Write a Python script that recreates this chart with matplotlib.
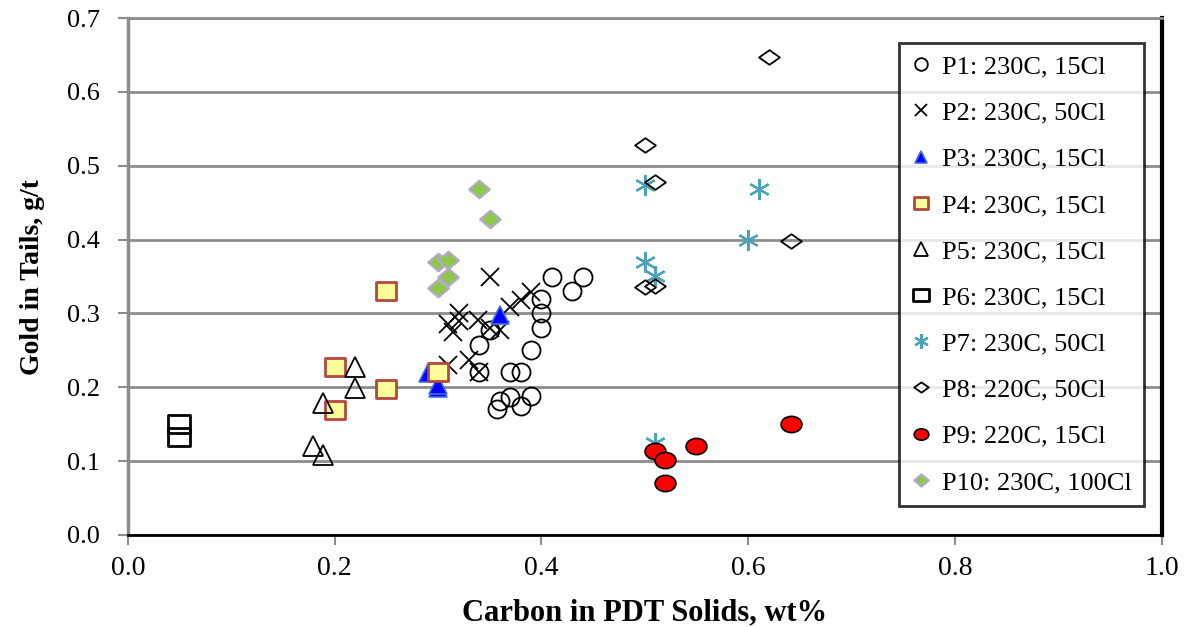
import matplotlib
matplotlib.use("Agg")
import matplotlib.pyplot as plt
from matplotlib.path import Path
from matplotlib.transforms import Affine2D

plt.rcParams['font.family'] = ['Liberation Serif', 'DejaVu Serif']

# ---- data ----
p1_x = [0.41, 0.44, 0.43, 0.40, 0.40, 0.40, 0.35, 0.34, 0.39, 0.34, 0.37, 0.38, 0.37, 0.39, 0.36, 0.357, 0.38]
p1_y = [0.35, 0.35, 0.33, 0.32, 0.30, 0.28, 0.277, 0.257, 0.25, 0.22, 0.22, 0.22, 0.187, 0.188, 0.182, 0.171, 0.174]

p2_x = [0.35, 0.39, 0.38, 0.37, 0.32, 0.31, 0.32, 0.315, 0.339, 0.36, 0.34, 0.31, 0.33, 0.35]
p2_y = [0.35, 0.329, 0.318, 0.309, 0.30, 0.285, 0.29, 0.275, 0.291, 0.277, 0.22, 0.23, 0.237, 0.28]

p3_x = [0.36, 0.29, 0.30, 0.30]
p3_y = [0.298, 0.219, 0.199, 0.203]

p4_x = [0.25, 0.30, 0.25, 0.20, 0.20]
p4_y = [0.33, 0.22, 0.197, 0.228, 0.169]

p5_x = [0.189, 0.179, 0.189, 0.22, 0.22]
p5_y = [0.178, 0.12, 0.108, 0.228, 0.199]

p6_x = [0.05, 0.05]
p6_y = [0.15, 0.132]

p7_x = [0.50, 0.61, 0.60, 0.50, 0.51, 0.51]
p7_y = [0.474, 0.468, 0.399, 0.369, 0.351, 0.124]

p8_x = [0.62, 0.50, 0.51, 0.641, 0.50, 0.51]
p8_y = [0.648, 0.528, 0.478, 0.398, 0.336, 0.337]

p9_x = [0.641, 0.55, 0.51, 0.52, 0.52]
p9_y = [0.150, 0.12, 0.114, 0.101, 0.07]

p10_x = [0.34, 0.35, 0.30, 0.31, 0.31, 0.30]
p10_y = [0.468, 0.428, 0.37, 0.373, 0.35, 0.335]

labels = ["P1: 230C, 15Cl", "P2: 230C, 50Cl", "P3: 230C, 15Cl", "P4: 230C, 15Cl",
          "P5: 230C, 15Cl", "P6: 230C, 15Cl", "P7: 230C, 50Cl", "P8: 220C, 50Cl",
          "P9: 220C, 15Cl", "P10: 230C, 100Cl"]

x_ticks = [0.0, 0.2, 0.4, 0.6, 0.8, 1.0]
y_ticks = [0.0, 0.1, 0.2, 0.3, 0.4, 0.5, 0.6, 0.7]

# ---- marker shapes ----
flat_diamond = Path([(0, 0.7), (1, 0), (0, -0.7), (-1, 0), (0, 0.7)],
                    [Path.MOVETO, Path.LINETO, Path.LINETO, Path.LINETO, Path.CLOSEPOLY])
green_diamond = Path([(0, 0.85), (1, 0), (0, -0.85), (-1, 0), (0, 0.85)],
                     [Path.MOVETO, Path.LINETO, Path.LINETO, Path.LINETO, Path.CLOSEPOLY])
ellipse = Path.unit_circle().transformed(Affine2D().scale(1.0, 0.78))
rect = Path([(-1, -0.82), (1, -0.82), (1, 0.82), (-1, 0.82), (-1, -0.82)],
            [Path.MOVETO, Path.LINETO, Path.LINETO, Path.LINETO, Path.CLOSEPOLY])

fig = plt.figure(figsize=(11.94, 6.27), dpi=100)
ax = fig.add_axes([0.107, 0.147, 0.866, 0.824])

gray = '#8c8c8c'
ax.set_axisbelow(True)
ax.grid(axis='y', color=gray, linewidth=2)

styles = [
    (p1_x, p1_y, dict(marker='o', ms=13, mfc='none', mec='black', mew=1.3)),
    (p2_x, p2_y, dict(marker='x', ms=13, mec='black', mew=1.3)),
    (p3_x, p3_y, dict(marker='^', ms=13, mfc='#0000ff', mec='#3b6fe0', mew=1.2)),
    (p4_x, p4_y, dict(marker=rect, ms=15, mfc='#ffff99', mec='#b5473f', mew=2)),
    (p5_x, p5_y, dict(marker='^', ms=14, mfc='none', mec='black', mew=1.3)),
    (p6_x, p6_y, dict(marker=rect, ms=16, mfc='none', mec='black', mew=2)),
    (p7_x, p7_y, dict(marker=(6, 2, 0), ms=15, mec='#4aa3b8', mew=1.6)),
    (p8_x, p8_y, dict(marker=flat_diamond, ms=15, mfc='none', mec='black', mew=1.3)),
    (p9_x, p9_y, dict(marker=ellipse, ms=15, mfc='#ff0000', mec='black', mew=1.2)),
    (p10_x, p10_y, dict(marker=green_diamond, ms=15, mfc='#8fc848', mec='#b4a7d6', mew=1.5)),
]

handles = []
for (xs, ys, st), lab in zip(styles, labels):
    h, = ax.plot(xs, ys, linestyle='none', label=lab, **st)
    handles.append(h)

ax.set_xlim(0, 1.0)
ax.set_ylim(0, 0.7)
ax.set_xticks(x_ticks)
ax.set_yticks(y_ticks)
ax.set_xticklabels([f"{v:.1f}" for v in x_ticks])
ax.set_yticklabels([f"{v:.1f}" for v in y_ticks])
ax.tick_params(axis='both', direction='out', length=7, width=1.5, color=gray)
ax.tick_params(axis='x', pad=8, labelsize=20)
ax.tick_params(axis='y', pad=13, labelsize=19)

ax.spines['left'].set_color(gray)
ax.spines['left'].set_linewidth(2.5)
ax.spines['top'].set_color(gray)
ax.spines['top'].set_linewidth(2)
ax.spines['bottom'].set_color('black')
ax.spines['bottom'].set_linewidth(2)
ax.spines['right'].set_color('black')
ax.spines['right'].set_linewidth(3)

ax.set_xlabel("Carbon in PDT Solids, wt%", fontsize=22, fontweight='bold', labelpad=13)
ax.set_ylabel("Gold in Tails, g/t", fontsize=20, fontweight='bold', labelpad=16)

leg = ax.legend(handles=handles, loc='upper left', bbox_to_anchor=(0.7457, 0.9516),
                fontsize=19, frameon=True, fancybox=False, edgecolor='black',
                borderpad=0.45, labelspacing=0.86, handlelength=0.8, handletextpad=0.4,
                markerscale=0.7, borderaxespad=0)
leg.get_frame().set_linewidth(2)

fig.savefig("out.png", dpi=100)
